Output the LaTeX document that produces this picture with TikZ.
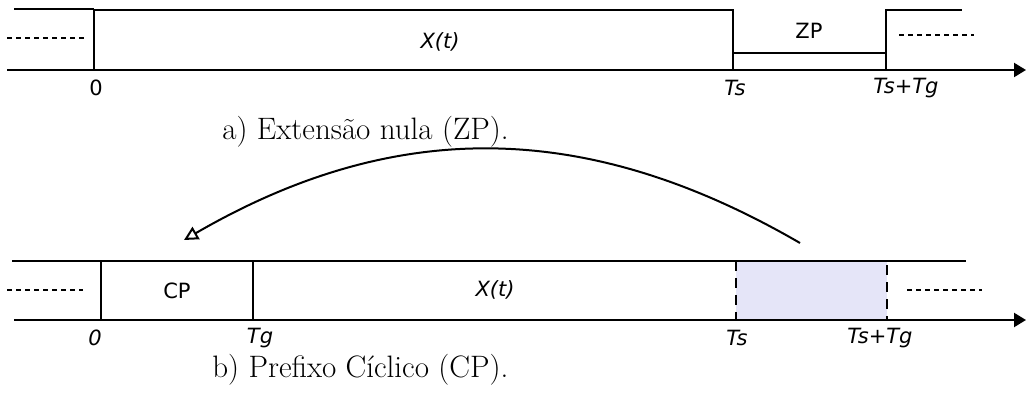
\documentclass[tikz,border=0pt]{standalone}
\usepackage{fontspec}
\newfontfamily\lblfont{DejaVu Sans}
\usetikzlibrary{arrows.meta, positioning}
\definecolor{cpLavender}{HTML}{E5E5F8}
\tikzset{
  axisline/.style = {-{Triangle[length=6pt, width=7pt]}, line width=1.1pt, black},
  sigline/.style  = {line width=1.1pt, black},
  gapline/.style  = {dash pattern=on 2.5pt off 2pt, line width=1.1pt, black},
  lbl/.style      = {font=\lblfont\fontsize{10.5}{12}\selectfont, inner sep=0pt},
  ilbl/.style     = {font=\lblfont\itshape\fontsize{10.5}{12}\selectfont, inner sep=0pt},
  captxt/.style   = {font=\fontsize{15.5}{18}\selectfont, anchor=base west, inner sep=0pt},
}

\begin{document}
\begin{tikzpicture}[x=0.5pt, y=-0.5pt,
    cpbox/.style={draw=black, line width=1.1pt, dash pattern=on 5pt off 3.5pt},
    copyarrow/.style={-{Triangle[open, length=7pt, width=7pt]}, line width=1pt}]
  \useasboundingbox (0,0) rectangle (1027,394);
  % a) zero padding
  \draw[sigline] (14,9) -- (94,9);
  \draw[sigline] (94,70) -- (94,10) -- (733,10) -- (733,70);
  \draw[sigline] (733,53) -- (886,53);
  \draw[sigline] (886,70) -- (886,10) -- (962,10);
  \draw[axisline] (7,70) -- (1026,70);
  \draw[gapline] (7,38) -- (84,38);
  \draw[gapline] (899,35) -- (974,35);
  \node[lbl] (za) at (96,88) {0};
  \node[ilbl] (xa) at (440,42) {X(t)};
  \node[lbl] (zp) at (809,31) {ZP};
  \foreach \x/\t [count=\i] in {735/Ts, 906/Ts+Tg}
    \node[ilbl] (ta\i) at (\x,88) {\t};
  \node[captxt] (capa) at (222,140) {a) Extensão nula (ZP).};
  % b) cyclic prefix
  \fill[cpLavender] (736,261) rectangle (887,320);
  \draw[sigline] (12,261) -- (966,261);
  \draw[sigline] (101,261) -- (101,320);
  \draw[sigline] (253,261) -- (253,320);
  \draw[cpbox] (736,261) rectangle (887,320);
  \draw[axisline] (14,320) -- (1026,320);
  \draw[gapline] (7,290) -- (83,290);
  \draw[gapline] (907,290) -- (982,290);
  \node[lbl] (cp) at (177,291) {CP};
  \node[ilbl] (xb) at (495,290) {X(t)};
  \foreach \x/\t [count=\i] in {95/0, 260/Tg, 737/Ts, 880/Ts+Tg}
    \node[ilbl] (tb\i) at (\x,338) {\t};
  \node[captxt] (capb) at (212,378) {b) Prefixo Cíclico (CP).};
  \coordinate (src) at (800,243);
  \coordinate (dst) at (184,240);
  \draw[copyarrow] (src) .. controls (588,120) and (396,117) .. (dst);
\end{tikzpicture}
\end{document}
